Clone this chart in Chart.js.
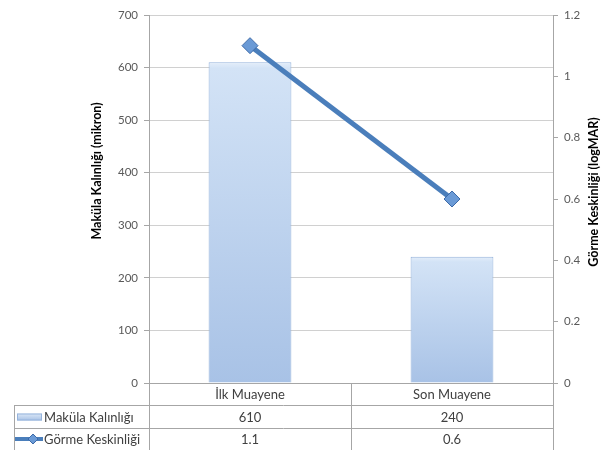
<!DOCTYPE html>
<html>
<head>
<meta charset="utf-8">
<script src="https://cdn.jsdelivr.net/npm/chart.js@4/dist/chart.umd.min.js"></script>
<style>
  html, body { margin: 0; padding: 0; background: #fff; }
  #wrap { width: 605px; height: 450px; position: relative; }
</style>
</head>
<body>
<div id="wrap"><canvas id="c" width="605" height="450"></canvas></div>
<script>
// Muayene kategorileri ve seriler
const categories = ['İlk Muayene', 'Son Muayene'];
const makulaKalinligi = [610, 240];     // mikron
const gormeKeskinligi = [1.1, 0.6];     // logMAR
const makulaLabel = 'Maküla Kalınlığı';
const gormeLabel = 'Görme Keskinliği';
const leftTitle = 'Maküla Kalınlığı (mikron)';
const rightTitle = 'Görme Keskinliği (logMAR)';

const FONT = 'Lato, "Open Sans", sans-serif';
const TEXT = '#404040';
const TABLE_LINE = '#a6a6a6';
const BAR_SHARE = 0.41;

// Sütunlar: üstten alta açık maviden koyu maviye geçiş
function barGradient(ctx) {
  const chart = ctx.chart;
  const ys = chart.scales && chart.scales.y;
  const area = chart.chartArea;
  if (!ys || !area || ctx.dataIndex === undefined) return '#c6d9f1';
  const top = ys.getPixelForValue(makulaKalinligi[ctx.dataIndex]);
  const bottom = area.bottom;
  if (!isFinite(top) || !isFinite(bottom) || bottom <= top) return '#c6d9f1';
  const g = chart.ctx.createLinearGradient(0, top, 0, bottom);
  g.addColorStop(0, '#e4eefa');
  g.addColorStop(Math.min(0.04, 6 / (bottom - top)), '#d3e3f6');
  g.addColorStop(1, '#a8c2e6');
  return g;
}

// Tablo ve döndürülmüş eksen başlıkları
const dataTablePlugin = {
  id: 'dataTable',
  afterDraw(chart) {
    const { ctx, chartArea } = chart;
    const x = chart.scales.x;
    const L = chartArea.left, R = chartArea.right, B = chartArea.bottom;
    const mid = (L + R) / 2;
    const keyLeft = 14;
    const rowH = [22, 23, 22];
    const y1 = B + rowH[0], y2 = y1 + rowH[1], y3 = y2 + rowH[2];

    ctx.save();
    ctx.strokeStyle = TABLE_LINE;
    ctx.lineWidth = 1;
    ctx.beginPath();
    ctx.moveTo(L + 0.5, B); ctx.lineTo(L + 0.5, y3);
    ctx.moveTo(Math.round(mid) + 0.5, B); ctx.lineTo(Math.round(mid) + 0.5, y3);
    ctx.moveTo(R + 0.5, B); ctx.lineTo(R + 0.5, y3);
    ctx.moveTo(keyLeft + 0.5, y1); ctx.lineTo(keyLeft + 0.5, y3);
    ctx.moveTo(keyLeft, Math.round(y1) + 0.5); ctx.lineTo(R, Math.round(y1) + 0.5);
    ctx.moveTo(keyLeft, Math.round(y2) + 0.5); ctx.lineTo(R, Math.round(y2) + 0.5);
    ctx.stroke();

    ctx.fillStyle = TEXT;
    ctx.font = '13px ' + FONT;
    ctx.textAlign = 'center';
    ctx.textBaseline = 'middle';
    categories.forEach((c, i) => {
      const cx = x.getPixelForValue(i);
      ctx.fillText(c, cx, B + rowH[0] / 2 + 1);
      ctx.fillText(String(makulaKalinligi[i]), cx, y1 + rowH[1] / 2 + 1);
      ctx.fillText(String(gormeKeskinligi[i]), cx, y2 + rowH[2] / 2 + 1);
    });

    // lejant anahtarları
    const ky1 = y1 + rowH[1] / 2;
    const kg = ctx.createLinearGradient(0, ky1 - 4, 0, ky1 + 4);
    kg.addColorStop(0, '#e3edf9');
    kg.addColorStop(1, '#a8c2e6');
    ctx.fillStyle = kg;
    ctx.fillRect(17, ky1 - 3, 25, 7);
    ctx.strokeStyle = '#95b3dc';
    ctx.strokeRect(17.5, ky1 - 2.5, 24, 6);

    const ky2 = y2 + rowH[2] / 2;
    ctx.strokeStyle = '#4a7ebb';
    ctx.lineWidth = 4;
    ctx.beginPath();
    ctx.moveTo(keyLeft + 1, ky2); ctx.lineTo(43, ky2);
    ctx.stroke();
    ctx.fillStyle = '#6a9ad6';
    ctx.strokeStyle = '#3d6aa8';
    ctx.lineWidth = 1;
    ctx.beginPath();
    ctx.moveTo(33, ky2 - 5); ctx.lineTo(38, ky2); ctx.lineTo(33, ky2 + 5); ctx.lineTo(28, ky2);
    ctx.closePath(); ctx.fill(); ctx.stroke();

    ctx.fillStyle = TEXT;
    ctx.textAlign = 'left';
    ctx.fillText(makulaLabel, 44, ky1 + 1);
    ctx.fillText(gormeLabel, 44, ky2 + 1);

    // eksen başlıkları (her ikisi de aşağıdan yukarı okunur)
    ctx.fillStyle = '#000';
    ctx.font = 'bold 12.5px ' + FONT;
    ctx.textAlign = 'center';
    ctx.save();
    ctx.translate(97, 171);
    ctx.rotate(-Math.PI / 2);
    ctx.fillText(leftTitle, 0, 0);
    ctx.restore();
    ctx.save();
    ctx.translate(594, 192);
    ctx.rotate(-Math.PI / 2);
    ctx.fillText(rightTitle, 0, 0);
    ctx.restore();
    ctx.restore();
  }
};

new Chart(document.getElementById('c'), {
  data: {
    labels: categories,
    datasets: [
      {
        type: 'line',
        label: gormeLabel,
        data: gormeKeskinligi,
        yAxisID: 'y1',
        borderColor: '#4a7ebb',
        borderWidth: 5,
        pointStyle: 'rectRot',
        pointRadius: 8,
        pointBackgroundColor: '#6a9ad6',
        pointBorderColor: '#3d6aa8',
        pointBorderWidth: 1,
        tension: 0,
        order: 0
      },
      {
        type: 'bar',
        label: makulaLabel,
        data: makulaKalinligi,
        yAxisID: 'y',
        backgroundColor: barGradient,
        borderColor: '#95b3dc',
        borderWidth: 1,
        categoryPercentage: 1,
        barPercentage: BAR_SHARE,
        order: 1
      }
    ]
  },
  options: {
    responsive: false,
    animation: false,
    events: [],
    layout: { padding: { top: 15, bottom: 67, left: 0, right: 0 } },
    plugins: { legend: { display: false }, tooltip: { enabled: false } },
    scales: {
      x: {
        offset: true,
        ticks: { display: false },
        grid: { display: false, drawTicks: false, tickLength: 0 },
        border: { display: true, color: '#a6a6a6' }
      },
      y: {
        position: 'left',
        min: 0, max: 700,
        ticks: { stepSize: 100, color: '#595959', font: { family: FONT, size: 11.5 }, padding: 6 },
        grid: { color: '#d0d0d0', tickLength: 5, tickColor: '#a6a6a6' },
        border: { color: '#a6a6a6' },
        afterFit(s) { s.width = 149; }
      },
      y1: {
        position: 'right',
        min: 0, max: 1.2,
        ticks: {
          stepSize: 0.2,
          color: '#595959',
          font: { family: FONT, size: 11.5 },
          padding: 6,
          callback: v => String(parseFloat(Number(v).toFixed(1)))
        },
        grid: { drawOnChartArea: false, tickLength: 5, tickColor: '#a6a6a6' },
        border: { color: '#a6a6a6' },
        afterFit(s) { s.width = 52; }
      }
    }
  },
  plugins: [dataTablePlugin]
});
</script>
</body>
</html>
